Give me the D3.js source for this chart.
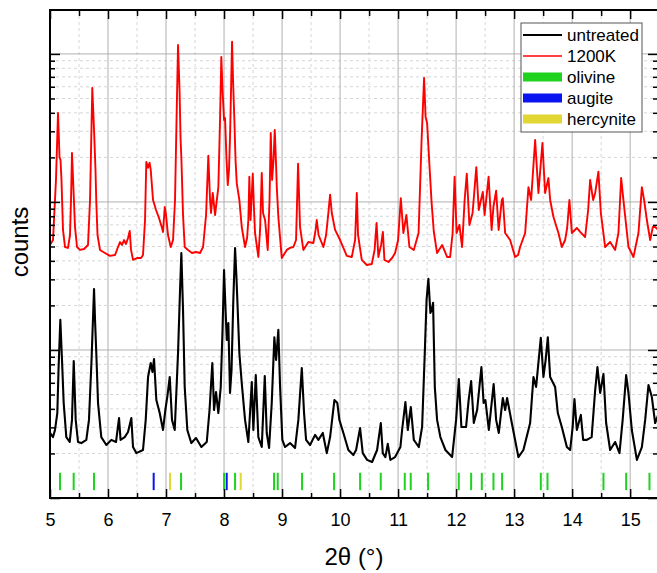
<!DOCTYPE html>
<meta charset="utf-8">
<head>
  <style>
    body { margin: 0; background: #fff; }
    text { font-family: "Liberation Sans", Arial, sans-serif; fill: #000; }
    .grid-major line { stroke: #b0b0b0; stroke-width: 1; }
    .grid-minor line { stroke: #d6d6d6; stroke-width: 1; stroke-dasharray: 3,3; }
    .axis line { stroke: #000; stroke-width: 1.5; }
    .axis path { display: none; }
    .axis text { font-size: 18px; }
    .legend text { font-size: 17px; }
  </style>
</head>
<!-- Load d3.js -->
<script src="https://d3js.org/d3.v7.min.js"></script>

<div id="my_dataviz"></div>
<script>
// plot frame (right edge sits just outside the window, as in the original)
const WIDTH = 657;
const HEIGHT = 573;
const LEFT = 50, TOP = 10, RIGHT = 658, BOTTOM = 498;

// x axis ticks
const xTicks = [5, 6, 7, 8, 9, 10, 11, 12, 13, 14, 15];
const xMinorTicks = [5.5, 6.5, 7.5, 8.5, 9.5, 10.5, 11.5, 12.5, 13.5, 14.5];
// log y axis, no labels
const yDecades = [100, 1000, 10000, 100000];

// untreated sample
const untreatedTheta = [5.000, 5.052, 5.086, 5.126, 5.147, 5.178, 5.207, 5.236, 5.281, 5.340, 5.379, 5.409, 5.443, 5.483, 5.540, 5.626, 5.672, 5.716, 5.759, 5.776,
  5.798, 5.828, 5.884, 5.971, 6.057, 6.138, 6.190, 6.216, 6.288, 6.345, 6.402, 6.431, 6.488, 6.603, 6.650, 6.690, 6.736, 6.767, 6.793, 6.833,
  6.891, 6.948, 6.988, 7.026, 7.064, 7.103, 7.150, 7.207, 7.236, 7.264, 7.293, 7.322, 7.367, 7.436, 7.517, 7.609, 7.702, 7.750, 7.798, 7.828,
  7.862, 7.902, 7.943, 7.974, 8.000, 8.026, 8.047, 8.074, 8.103, 8.129, 8.160, 8.190, 8.212, 8.229, 8.264, 8.305, 8.362, 8.419, 8.478, 8.505,
  8.547, 8.591, 8.650, 8.702, 8.736, 8.776, 8.822, 8.867, 8.897, 8.936, 8.966, 9.005, 9.052, 9.138, 9.224, 9.281, 9.340, 9.379, 9.414, 9.483,
  9.569, 9.626, 9.702, 9.771, 9.828, 9.902, 9.953, 9.988, 10.057, 10.143, 10.229, 10.276, 10.345, 10.391, 10.466, 10.552, 10.638, 10.702, 10.736, 10.781,
  10.822, 10.867, 10.948, 11.040, 11.069, 11.126, 11.167, 11.219, 11.271, 11.357, 11.414, 11.460, 11.491, 11.522, 11.557, 11.578, 11.603, 11.633, 11.672, 11.729,
  11.816, 11.931, 12.000, 12.047, 12.091, 12.172, 12.216, 12.259, 12.305, 12.362, 12.436, 12.474, 12.505, 12.564, 12.647, 12.690, 12.736, 12.805, 12.845, 12.879,
  12.960, 13.074, 13.160, 13.276, 13.333, 13.379, 13.460, 13.505, 13.543, 13.581, 13.621, 13.707, 13.753, 13.822, 13.909, 13.966, 14.009, 14.040, 14.081, 14.150,
  14.190, 14.253, 14.336, 14.397, 14.436, 14.483, 14.540, 14.586, 14.655, 14.741, 14.816, 14.871, 14.931, 14.971, 15.029, 15.116, 15.202, 15.259, 15.316, 15.374,
  15.431, 15.483];
const untreatedCounts = [275, 258, 288, 375, 732, 1600, 855, 438, 258, 239, 337, 842, 337, 239, 235, 247, 337, 855, 2580, 1600,
  953, 438, 258, 228, 247, 239, 347, 247, 258, 279, 347, 221, 201, 211, 337, 657, 816, 710, 868, 459,
  375, 288, 393, 496, 657, 337, 288, 953, 2180, 4520, 1860, 562, 288, 235, 254, 221, 239, 393, 816, 393,
  520, 375, 562, 1370, 3470, 1860, 1170, 1520, 512, 732, 2180, 4890, 3210, 2180, 953, 598, 337, 239, 608, 288,
  677, 258, 221, 667, 275, 218, 438, 1220, 855, 1370, 562, 247, 221, 235, 218, 337, 755, 375, 247, 228,
  267, 247, 275, 201, 258, 459, 438, 337, 275, 211, 195, 211, 297, 201, 181, 175, 211, 321, 201, 189,
  232, 181, 189, 221, 288, 445, 288, 412, 247, 221, 302, 953, 2180, 3020, 1780, 1860, 2080, 562, 337, 258,
  211, 189, 337, 637, 302, 302, 459, 617, 321, 393, 767, 438, 459, 288, 589, 337, 275, 474, 393, 474,
  321, 189, 211, 321, 657, 562, 1210, 657, 855, 1220, 657, 562, 375, 302, 221, 211, 302, 466, 288, 364,
  247, 247, 258, 536, 767, 512, 688, 321, 211, 239, 201, 337, 677, 512, 288, 181, 221, 337, 580, 481,
  321, 364];

// sample after 1200 K
const annealedTheta = [5.000, 5.052, 5.103, 5.138, 5.164, 5.181, 5.198, 5.224, 5.259, 5.310, 5.345, 5.362, 5.379, 5.405, 5.431, 5.466, 5.517, 5.586, 5.655, 5.690,
  5.729, 5.759, 5.784, 5.798, 5.819, 5.862, 5.948, 6.034, 6.121, 6.172, 6.207, 6.241, 6.276, 6.310, 6.345, 6.374, 6.397, 6.431, 6.500, 6.569,
  6.603, 6.638, 6.660, 6.690, 6.716, 6.736, 6.776, 6.828, 6.879, 6.931, 6.948, 6.978, 7.000, 7.034, 7.081, 7.121, 7.155, 7.181, 7.207, 7.233,
  7.250, 7.267, 7.293, 7.322, 7.379, 7.448, 7.517, 7.586, 7.638, 7.690, 7.729, 7.759, 7.776, 7.805, 7.845, 7.902, 7.931, 7.953, 7.974, 8.000,
  8.017, 8.043, 8.064, 8.086, 8.103, 8.138, 8.155, 8.178, 8.198, 8.219, 8.264, 8.305, 8.362, 8.397, 8.419, 8.436, 8.457, 8.495, 8.517, 8.534,
  8.591, 8.621, 8.650, 8.672, 8.707, 8.753, 8.784, 8.805, 8.828, 8.853, 8.874, 8.897, 8.909, 8.936, 8.995, 9.081, 9.138, 9.195, 9.241, 9.276,
  9.310, 9.367, 9.453, 9.540, 9.578, 9.598, 9.629, 9.712, 9.759, 9.798, 9.828, 9.857, 9.914, 10.000, 10.116, 10.202, 10.259, 10.288, 10.310, 10.374,
  10.460, 10.547, 10.595, 10.629, 10.660, 10.707, 10.738, 10.764, 10.833, 10.897, 10.948, 11.000, 11.047, 11.091, 11.143, 11.195, 11.271, 11.353, 11.405, 11.448,
  11.474, 11.500, 11.540, 11.578, 11.616, 11.672, 11.759, 11.845, 11.897, 11.940, 11.974, 12.009, 12.057, 12.103, 12.147, 12.184, 12.229, 12.284, 12.348, 12.391,
  12.460, 12.491, 12.560, 12.612, 12.643, 12.690, 12.733, 12.788, 12.805, 12.845, 12.931, 13.017, 13.069, 13.103, 13.190, 13.247, 13.293, 13.362, 13.419, 13.488,
  13.534, 13.591, 13.621, 13.678, 13.764, 13.822, 13.879, 13.914, 13.953, 13.995, 14.081, 14.138, 14.224, 14.276, 14.310, 14.362, 14.397, 14.453, 14.495, 14.569,
  14.655, 14.741, 14.798, 14.845, 14.884, 14.971, 15.057, 15.143, 15.202, 15.241, 15.288, 15.345, 15.391, 15.431, 15.483];
const annealedCounts = [5120, 5530, 14100, 39900, 20100, 19200, 14100, 6470, 4960, 4890, 5980, 10300, 21400, 12100, 6770, 4960, 4740, 4810, 5120, 10300,
  58900, 30700, 16500, 10000, 5980, 4740, 4520, 4320, 4380, 4960, 5360, 5120, 5530, 5200, 5710, 6370, 4740, 4060, 4180, 4180,
  4380, 7550, 18600, 17000, 18400, 16500, 10300, 8820, 7790, 6670, 6270, 9240, 8160, 5980, 4960, 5530, 10300, 35800, 115000, 57100,
  27100, 18400, 8160, 4960, 4740, 4520, 4590, 4520, 4960, 8160, 20500, 10300, 8420, 11500, 8160, 12600, 35800, 95300, 57100, 35800,
  36900, 19200, 13000, 16500, 27500, 121000, 66700, 35800, 19200, 13400, 10300, 6770, 4960, 5710, 7550, 14800, 7550, 15500, 8820, 6170,
  4250, 6470, 15700, 8420, 7550, 4740, 10300, 29300, 14100, 19200, 30700, 17800, 12600, 7910, 4180, 4740, 4890, 4960, 5530, 18100,
  6770, 4740, 5360, 5280, 6470, 7550, 5980, 4960, 5980, 8420, 11200, 8420, 6470, 5530, 4320, 4250, 5530, 11500, 5980, 4060,
  3750, 3810, 4740, 7210, 4250, 5120, 6270, 4060, 3930, 4180, 4520, 5530, 10600, 6170, 8160, 4960, 4740, 6170, 26200, 68800,
  37500, 34200, 17800, 9830, 6270, 4520, 5120, 4250, 4250, 6170, 14800, 6170, 6990, 4960, 10300, 15500, 6990, 8420, 17200, 8820,
  11700, 8160, 14800, 6470, 9240, 11900, 6470, 10300, 10600, 6170, 5530, 4250, 4380, 4960, 6170, 12600, 10300, 26200, 11500, 25000,
  11500, 14500, 10300, 7910, 6170, 4960, 5530, 6670, 10300, 6170, 6670, 6270, 5800, 8820, 14100, 10300, 11500, 16000, 8420, 4960,
  5360, 4740, 6170, 14500, 10300, 4960, 4250, 6170, 12600, 10300, 7550, 5530, 6770, 6770, 6470];

// reference peak positions (2theta)
const olivinePeaks = [5.172, 5.408, 5.759, 7.259, 8.000, 8.190, 8.862, 8.925, 9.345, 9.897, 10.345, 10.701, 11.115, 11.218, 11.517,
  12.046, 12.259, 12.443, 12.644, 12.793, 13.460, 13.575, 14.540, 14.931, 15.333];
const augitePeaks = [6.787, 8.046];
const hercynitePeaks = [7.069, 8.287];

const seriesNames = ["untreated", "1200K"];
const phaseNames = ["olivine", "augite", "hercynite"];

const COLORS = { untreated: "#000000", "1200K": "#ff0000", olivine: "#1ed21e", augite: "#0a14f0", hercynite: "#e2d632" };
// sticks are drawn between these two count levels near the bottom
const STICK_LO = 113, STICK_HI = 148;

var svg = d3.select("#my_dataviz")
  .append("svg")
  .attr("width", WIDTH)
  .attr("height", HEIGHT);

var x = d3.scaleLinear().domain([5, 15.48]).range([LEFT, RIGHT]);
var y = d3.scaleLog().domain([100, 198000]).range([BOTTOM, TOP]);

var yMinor = [];
yDecades.forEach(d => { for (let k = 2; k <= 9; k++) if (d * k < y.domain()[1]) yMinor.push(d * k); });

// grid
svg.append("g").attr("class", "grid-minor")
  .selectAll("line").data(xMinorTicks).join("line")
  .attr("x1", d => x(d)).attr("x2", d => x(d)).attr("y1", TOP).attr("y2", BOTTOM);
svg.append("g").attr("class", "grid-minor")
  .selectAll("line").data(yMinor).join("line")
  .attr("x1", LEFT).attr("x2", RIGHT).attr("y1", d => y(d)).attr("y2", d => y(d));
svg.append("g").attr("class", "grid-major")
  .selectAll("line").data(xTicks).join("line")
  .attr("x1", d => x(d)).attr("x2", d => x(d)).attr("y1", TOP).attr("y2", BOTTOM);
svg.append("g").attr("class", "grid-major")
  .selectAll("line").data(yDecades.slice(1)).join("line")
  .attr("x1", LEFT).attr("x2", RIGHT).attr("y1", d => y(d)).attr("y2", d => y(d));

svg.append("defs").append("clipPath").attr("id", "clip")
  .append("rect").attr("x", LEFT).attr("y", TOP).attr("width", RIGHT - LEFT).attr("height", BOTTOM - TOP);

var plot = svg.append("g").attr("clip-path", "url(#clip)");

// phase sticks
[[olivinePeaks, "olivine"], [augitePeaks, "augite"], [hercynitePeaks, "hercynite"]].forEach(([peaks, name]) => {
  plot.append("g").selectAll("line").data(peaks).join("line")
    .attr("x1", d => x(d)).attr("x2", d => x(d))
    .attr("y1", y(STICK_LO)).attr("y2", y(STICK_HI))
    .attr("stroke", COLORS[name]).attr("stroke-width", 2);
});

var line = d3.line().x(d => x(d[0])).y(d => y(d[1]));

plot.append("path")
  .datum(d3.zip(untreatedTheta, untreatedCounts))
  .attr("fill", "none").attr("stroke", COLORS.untreated).attr("stroke-width", 2.1)
  .attr("stroke-linejoin", "round")
  .attr("d", line);

plot.append("path")
  .datum(d3.zip(annealedTheta, annealedCounts))
  .attr("fill", "none").attr("stroke", COLORS["1200K"]).attr("stroke-width", 1.9)
  .attr("stroke-linejoin", "round")
  .attr("d", line);

// axes: all ticks point inwards
svg.append("g").attr("class", "axis").attr("transform", `translate(0,${BOTTOM})`)
  .call(d3.axisBottom(x).tickValues(xTicks).tickSizeInner(-9).tickSizeOuter(0).tickPadding(15).tickFormat(d3.format("d")));
svg.append("g").attr("class", "axis").attr("transform", `translate(0,${BOTTOM})`)
  .call(d3.axisBottom(x).tickValues(xMinorTicks).tickSize(-5).tickFormat(""));
svg.append("g").attr("class", "axis").attr("transform", `translate(0,${TOP})`)
  .call(d3.axisTop(x).tickValues(xTicks).tickSize(-9).tickFormat(""));
svg.append("g").attr("class", "axis").attr("transform", `translate(0,${TOP})`)
  .call(d3.axisTop(x).tickValues(xMinorTicks).tickSize(-6).tickFormat(""));
svg.append("g").attr("class", "axis").attr("transform", `translate(${LEFT},0)`)
  .call(d3.axisLeft(y).tickValues(yDecades).tickSize(-10).tickFormat(""));
svg.append("g").attr("class", "axis").attr("transform", `translate(${LEFT},0)`)
  .call(d3.axisLeft(y).tickValues(yMinor).tickSize(-5).tickFormat(""));
svg.append("g").attr("class", "axis").attr("transform", `translate(${RIGHT},0)`)
  .call(d3.axisRight(y).tickValues(yDecades).tickSize(-10).tickFormat(""));
svg.append("g").attr("class", "axis").attr("transform", `translate(${RIGHT},0)`)
  .call(d3.axisRight(y).tickValues(yMinor).tickSize(-5).tickFormat(""));

svg.append("rect")
  .attr("x", LEFT).attr("y", TOP).attr("width", RIGHT - LEFT).attr("height", BOTTOM - TOP)
  .attr("fill", "none").attr("stroke", "#000").attr("stroke-width", 2);

// axis titles
svg.append("text")
  .attr("x", (LEFT + RIGHT) / 2 + 0).attr("y", 565)
  .attr("text-anchor", "middle").style("font-size", "24px")
  .text("2θ (°)");
svg.append("text")
  .attr("transform", `translate(28,${(TOP + BOTTOM) / 2 - 12}) rotate(-90)`)
  .attr("text-anchor", "middle").style("font-size", "24px")
  .text("counts");

// legend
var legend = svg.append("g").attr("class", "legend").attr("transform", "translate(521,23)");
legend.append("rect").attr("width", 121).attr("height", 109)
  .attr("fill", "#fff").attr("stroke", "#555").attr("stroke-width", 1);
var rows = seriesNames.concat(phaseNames);
rows.forEach((name, i) => {
  var ry = 12 + i * 21;
  if (i < seriesNames.length) {
    legend.append("line").attr("x1", 2).attr("x2", 41).attr("y1", ry).attr("y2", ry)
      .attr("stroke", COLORS[name]).attr("stroke-width", i === 0 ? 2 : 1.6);
  } else {
    legend.append("rect").attr("x", 2).attr("y", ry - 4.5).attr("width", 39).attr("height", 9)
      .attr("fill", COLORS[name]);
  }
  legend.append("text").attr("x", 46).attr("y", ry + 6).text(name);
});
</script>
